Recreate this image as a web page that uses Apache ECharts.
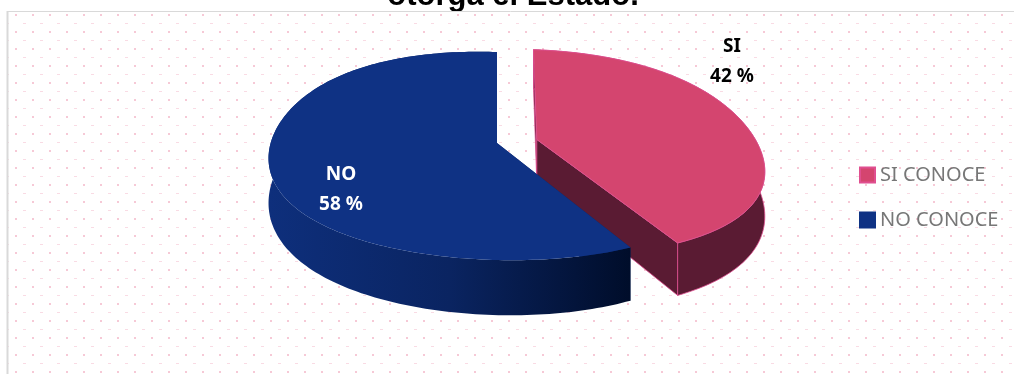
<!DOCTYPE html>
<html>
<head>
<meta charset="utf-8">
<script src="https://cdn.jsdelivr.net/npm/echarts@6/dist/echarts.min.js"></script>
<style>
  html, body { margin: 0; padding: 0; background: #fff; }
  #chart { width: 1014px; height: 374px; }
</style>
</head>
<body>
<div id="chart"></div>
<script>
// data
const categories = ['SI', 'NO'];
const legendNames = ['SI CONOCE', 'NO CONOCE'];
const percents = [42, 58];
const titleText = 'otorga el Estado.';

// look of the 3d pie
const topColors = ['#d4456f', '#0f3284'];
const sideColors = ['#5a1b33', '#0a2562'];
const labelColors = ['#000000', '#ffffff'];
const labelPos = [[732, 62], [341, 190]];
const explode = [0.185, 0];

// projection of the unit pie (x right, z toward viewer, h 0 top / 1 bottom)
const CX = 497, CY = 143, RX = 224, BZ = 104, QZ = 13, SKEW = 7, DEPTH = 43;
function proj(x, z, h) {
  const m = 1 + 0.186 * z + 0.0955 * z * z;
  return [CX + RX * x * m, CY + BZ * z + QZ * z * z + SKEW * x + DEPTH * h * m];
}

function dotPattern() {
  const c = document.createElement('canvas');
  c.width = 17; c.height = 17;
  const g = c.getContext('2d');
  g.fillStyle = '#f6c9d6';
  g.fillRect(15, 14, 2, 2);
  g.fillStyle = '#f9dbe4';
  g.fillRect(6, 6, 3, 1);
  return c;
}

function sliceRender(idx) {
  return function (params, api) {
    const total = percents.reduce(function (a, b) { return a + b; }, 0);
    let start = 0;
    for (let k = 0; k < idx; k++) start += percents[k];
    const t0 = start / total * Math.PI * 2;
    const t1 = (start + api.value(0)) / total * Math.PI * 2;
    const mid = (t0 + t1) / 2;
    const ox = Math.sin(mid) * explode[idx];
    const oz = -Math.cos(mid) * explode[idx];
    const steps = Math.max(8, Math.ceil((t1 - t0) / 0.02));
    const topArc = [], botArc = [];
    for (let s = 0; s <= steps; s++) {
      const t = t0 + (t1 - t0) * s / steps;
      const x = Math.sin(t) + ox, z = -Math.cos(t) + oz;
      topArc.push(proj(x, z, 0));
      botArc.push(proj(x, z, 1));
    }
    const aT = proj(ox, oz, 0), aB = proj(ox, oz, 1);
    const stroke = idx === 0 ? '#e04f90' : null;
    const wallFill = idx === 0 ? sideColors[0] : new echarts.graphic.LinearGradient(0, 0, 1, 0, [
      { offset: 0, color: '#0e2f7c' },
      { offset: 0.5, color: '#0a2461' },
      { offset: 1, color: '#000d2a' }
    ]);
    const children = [];
    [0, steps].forEach(function (j) {
      children.push({
        type: 'polygon',
        shape: { points: [aT, topArc[j], botArc[j], aB] },
        style: { fill: sideColors[idx], stroke: stroke, lineWidth: 0.8 }
      });
    });
    children.push({
      type: 'polygon',
      shape: { points: topArc.concat(botArc.slice().reverse()) },
      style: { fill: wallFill, stroke: stroke, lineWidth: 0.8 }
    });
    children.push({
      type: 'polygon',
      shape: { points: [aT].concat(topArc) },
      style: { fill: topColors[idx], stroke: stroke, lineWidth: 0.8 }
    });
    children.push({
      type: 'text',
      x: labelPos[idx][0],
      y: labelPos[idx][1],
      style: {
        text: categories[idx] + '\n' + percents[idx] + ' %',
        fill: labelColors[idx],
        fontFamily: 'Noto Sans',
        fontWeight: 'bold',
        fontSize: 19,
        lineHeight: 30,
        align: 'center',
        verticalAlign: 'middle'
      }
    });
    return { type: 'group', children: children };
  };
}

const chart = echarts.init(document.getElementById('chart'));
chart.setOption({
  animation: false,
  graphic: [
    {
      type: 'rect', z: 0,
      shape: { x: 8, y: 12, width: 1006, height: 362 },
      style: { fill: { image: dotPattern(), repeat: 'repeat' } }
    },
    { type: 'line', z: 1, shape: { x1: 7, y1: 11.5, x2: 1014, y2: 11.5 }, style: { stroke: '#d9d9d9', lineWidth: 1 } },
    { type: 'line', z: 1, shape: { x1: 7.5, y1: 11, x2: 7.5, y2: 374 }, style: { stroke: '#d9d9d9', lineWidth: 2 } },
    {
      type: 'text', z: 0, x: 513, y: 12,
      style: {
        text: titleText,
        fill: '#000',
        font: 'bold 31px "Liberation Sans"',
        align: 'center',
        verticalAlign: 'bottom'
      }
    }
  ],
  legend: {
    orient: 'vertical',
    left: 854,
    top: 160,
    icon: 'rect',
    itemWidth: 15,
    itemHeight: 15,
    itemGap: 25,
    data: legendNames,
    textStyle: { color: '#777777', fontFamily: 'Noto Sans', fontSize: 20, lineHeight: 20 }
  },
  series: legendNames.map(function (name, i) {
    return {
      type: 'custom',
      name: name,
      coordinateSystem: 'none',
      itemStyle: { color: topColors[i], borderColor: i === 0 ? '#e04f90' : topColors[i], borderWidth: 1 },
      renderItem: sliceRender(i),
      data: [[percents[i]]]
    };
  })
});
</script>
</body>
</html>
